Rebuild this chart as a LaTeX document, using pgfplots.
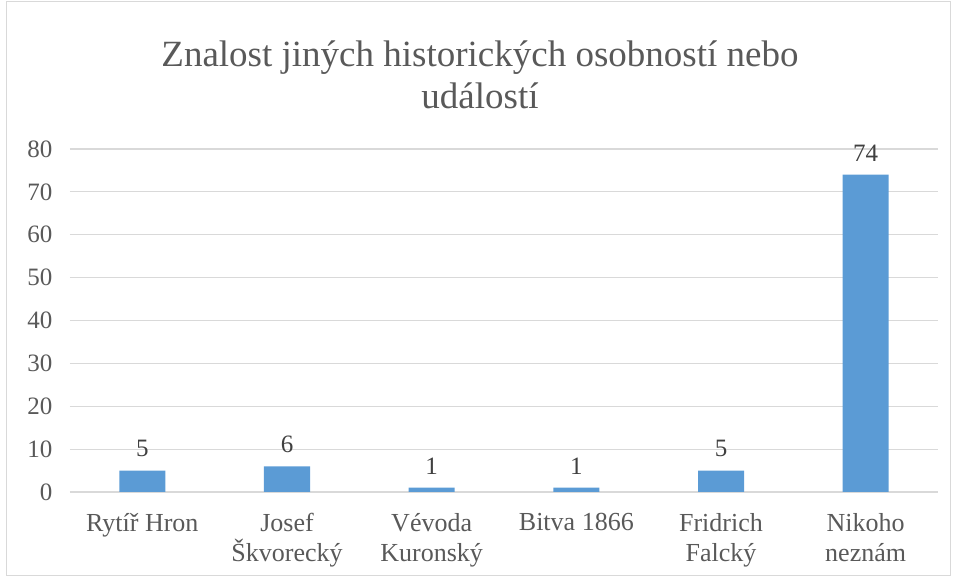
\documentclass[border=0pt]{standalone}
\usepackage{fontspec}
\setmainfont{Liberation Serif}
\usepackage{pgfplots}
\pgfplotsset{compat=1.18}
\definecolor{barblue}{HTML}{5B9BD5}
\definecolor{gridgray}{HTML}{D9D9D9}
\definecolor{txtgray}{HTML}{595959}
\begin{document}
\begin{tikzpicture}
\path[use as bounding box] (-70pt,-86pt) rectangle (886pt,492pt);
\draw[gridgray, line width=1pt] (-63pt,-84pt) rectangle (880pt,490pt);
\begin{axis}[
  at={(0pt,0pt)}, anchor=south west,
  scale only axis,
  width=868pt, height=343pt,
  xmin=-0.5, xmax=5.5,
  ymin=0, ymax=80,
  ytick={0,10,...,80},
  xtick={0,1,2,3,4,5},
  xticklabels={{Rytíř Hron},{Josef\\Škvorecký},{Vévoda\\Kuronský},{Bitva 1866},{Fridrich\\Falcký},{Nikoho\\neznám}},
  xticklabel style={align=center, font=\fontsize{26}{30}\selectfont, text=txtgray, yshift=-18pt},
  yticklabel style={font=\fontsize{25}{28}\selectfont, text=txtgray, xshift=-14pt},
  /pgf/number format/assume math mode=true,
  axis line style={draw=none},
  axis x line*=bottom,
  ymajorgrids,
  grid style={gridgray, line width=1.2pt},
  major tick length=0pt,
  ybar,
  bar width=46pt,
  nodes near coords,
  nodes near coords style={font=\fontsize{25}{28}\selectfont, text=black!75, yshift=10pt},
  clip=false,
]
\addplot[fill=barblue, draw=none] coordinates {(0,5) (1,6) (2,1) (3,1) (4,5) (5,74)};
\end{axis}
\node[align=center, text=txtgray, font=\fontsize{37}{42}\selectfont] at (410pt,417pt) {Znalost jiných historických osobností nebo\\událostí};
\end{tikzpicture}
\end{document}
